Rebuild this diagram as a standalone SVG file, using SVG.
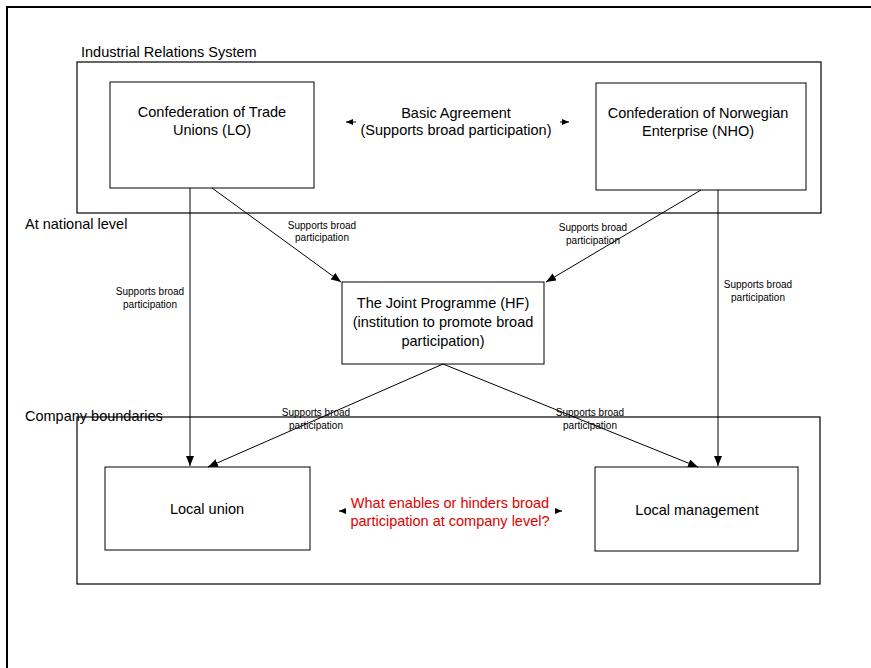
<svg xmlns="http://www.w3.org/2000/svg" width="871" height="668" viewBox="0 0 871 668">
<defs>
<marker id="ah" markerWidth="10" markerHeight="8" refX="10" refY="4" orient="auto" markerUnits="userSpaceOnUse"><path d="M0,0 L10,4 L0,8 Z" fill="#000"/></marker>
<marker id="sm" markerWidth="7" markerHeight="6" refX="7" refY="3" orient="auto" markerUnits="userSpaceOnUse"><path d="M0,0 L7,3 L0,6 Z" fill="#000"/></marker>
<style>
text{font-family:"Liberation Sans",Arial,sans-serif;fill:#000}
.t{font-size:14.5px;text-anchor:middle}
.s{font-size:10px;text-anchor:middle}
.l{font-size:14.5px}
.r{fill:#e00000;font-size:14.5px}
.box{fill:#fff;stroke:#000;stroke-width:1}
.grp{fill:none;stroke:#000;stroke-width:1.2}
.c{stroke:#000;stroke-width:1;fill:none}
</style>
</defs>
<rect width="871" height="668" fill="#fff"/>
<rect x="7" y="7" width="880" height="700" fill="none" stroke="#000" stroke-width="2"/>
<g id="irs">
<rect class="grp" x="77" y="62" width="744" height="151"/>
<text class="l" x="81" y="57">Industrial Relations System</text>
</g>
<g id="national-label"><text class="l" x="25" y="229">At national level</text></g>
<g id="company">
<rect class="grp" x="77" y="417" width="743" height="167"/>
<text class="l" x="25" y="421">Company boundaries</text>
</g>
<g id="lo">
<rect class="box" x="110" y="82" width="204" height="106"/>
<text class="t" x="212" y="117">Confederation of Trade</text>
<text class="t" x="212" y="135">Unions (LO)</text>
</g>
<g id="nho">
<rect class="box" x="596" y="83" width="210" height="107"/>
<text class="t" x="698" y="118">Confederation of Norwegian</text>
<text class="t" x="698" y="136">Enterprise (NHO)</text>
</g>
<g id="hf">
<rect class="box" x="342" y="282" width="202" height="82"/>
<text class="t" x="443" y="308">The Joint Programme (HF)</text>
<text class="t" x="443" y="327">(institution to promote broad</text>
<text class="t" x="443" y="346">participation)</text>
</g>
<g id="local-union">
<rect class="box" x="105" y="467" width="205" height="83"/>
<text class="t" x="207" y="514">Local union</text>
</g>
<g id="local-management">
<rect class="box" x="595" y="467" width="203" height="84"/>
<text class="t" x="697" y="515">Local management</text>
</g>
<g id="connectors">
<line class="c" x1="190" y1="188" x2="190" y2="466" marker-end="url(#ah)"/>
<line class="c" x1="212" y1="188" x2="341" y2="282" marker-end="url(#ah)"/>
<line class="c" x1="701" y1="190" x2="546" y2="282" marker-end="url(#ah)"/>
<line class="c" x1="718" y1="190" x2="718" y2="466" marker-end="url(#ah)"/>
<line class="c" x1="443" y1="364" x2="208" y2="467" marker-end="url(#ah)"/>
<line class="c" x1="443" y1="364" x2="698" y2="467" marker-end="url(#ah)"/>
<line class="c" x1="356" y1="122" x2="346" y2="122" marker-end="url(#sm)"/>
<line class="c" x1="560" y1="122" x2="569" y2="122" marker-end="url(#sm)"/>
<line class="c" x1="346" y1="511" x2="339" y2="511" marker-end="url(#sm)"/>
<line class="c" x1="555" y1="511" x2="562" y2="511" marker-end="url(#sm)"/>
<text class="t" x="456" y="118">Basic Agreement</text>
<text class="t" x="456" y="135">(Supports broad participation)</text>
<text class="s" x="322" y="229">Supports broad</text>
<text class="s" x="322" y="241">participation</text>
<text class="s" x="593" y="231">Supports broad</text>
<text class="s" x="593" y="244">participation</text>
<text class="s" x="150" y="295">Supports broad</text>
<text class="s" x="150" y="308">participation</text>
<text class="s" x="758" y="288">Supports broad</text>
<text class="s" x="758" y="301">participation</text>
<text class="s" x="316" y="416">Supports broad</text>
<text class="s" x="316" y="429">participation</text>
<text class="s" x="590" y="416">Supports broad</text>
<text class="s" x="590" y="429">participation</text>
<text class="t r" x="450" y="508">What enables or hinders broad</text>
<text class="t r" x="450" y="526">participation at company level?</text>
</g>
</svg>
